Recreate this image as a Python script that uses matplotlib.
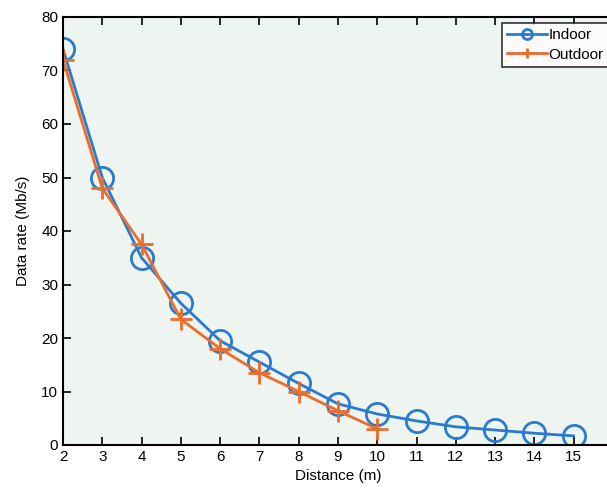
import numpy as np
import matplotlib.pyplot as plt

# data
dist_in = [2, 3, 4, 5, 6, 7, 8, 9, 10, 11, 12, 13, 14, 15]
rate_in = [74, 50, 35, 26.5, 19.5, 15.5, 11.5, 7.7, 5.8, 4.5, 3.4, 2.8, 2.2, 1.7]
dist_out = [2, 3, 4, 5, 6, 7, 8, 9, 10]
rate_out = [72, 48, 37.5, 23.5, 18, 13.5, 10, 6.4, 3.0]
xticks = list(range(2, 16))
yticks = list(range(0, 81, 10))

blue = '#2a7bd0'
orange = '#ef6b2a'

plt.rcParams['font.family'] = ['Liberation Sans', 'DejaVu Sans']

fig = plt.figure(figsize=(6.07, 4.99), dpi=100)
ax = fig.add_axes([63 / 607, 54 / 499, 0.906, 428 / 499])
ax.set_facecolor('#eef4f0')

ax.plot(dist_in, rate_in, color=blue, lw=2, marker='o', ms=16,
        mfc='none', mec=blue, mew=2, label='Indoor')
ax.plot(dist_out, rate_out, color=orange, lw=2, marker='+', ms=16,
        mew=2, label='Outdoor')

ax.set_xlim(2, 16)
ax.set_ylim(0, 80)
ax.set_xticks(xticks)
ax.set_yticks(yticks)
ax.tick_params(direction='in', length=6, width=1.2, labelsize=11,
               top=True, right=False)
for s in ax.spines.values():
    s.set_linewidth(1.5)
ax.spines['right'].set_visible(False)

ax.set_xlabel('Distance (m)', fontsize=11)
ax.set_ylabel('Data rate (Mb/s)', fontsize=11, labelpad=8)

# legend box runs off the right edge, as in the reference
leg = ax.legend(loc='upper left', mode='expand',
                bbox_to_anchor=(502 / 607, 1 - 73 / 499, 115 / 607, 50 / 499),
                bbox_transform=fig.transFigure, frameon=True, fancybox=False,
                edgecolor='black', fontsize=11, markerscale=0.45,
                handlelength=2.6, handletextpad=0.1, borderpad=0.35,
                labelspacing=0.35, borderaxespad=0)
leg.get_frame().set_linewidth(1.2)
leg.get_frame().set_facecolor('white')

fig.savefig('out.png', dpi=100)
